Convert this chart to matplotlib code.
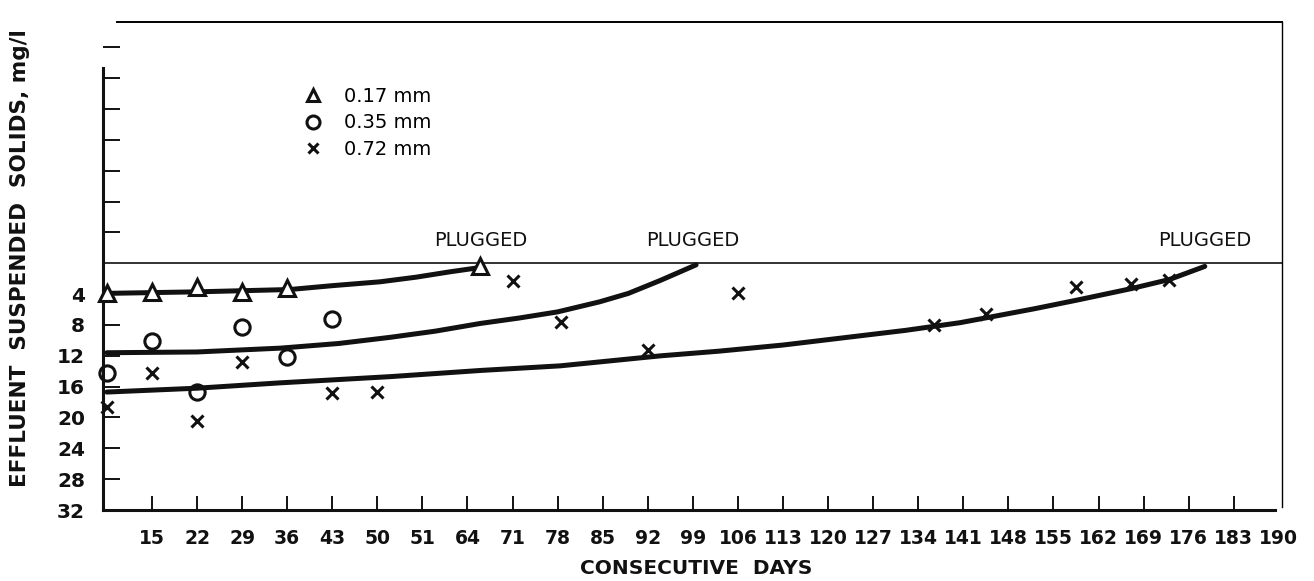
import matplotlib
matplotlib.use("Agg")
import matplotlib.pyplot as plt

# effluent suspended solids (mg/l) for three media sizes
tri_days = [8, 15, 22, 29, 36, 66]
tri_vals = [3.9, 3.7, 3.1, 3.7, 3.2, 0.3]

circ_days = [8, 15, 22, 29, 36, 43]
circ_vals = [14.2, 10.1, 16.7, 8.2, 12.2, 7.2]

x_days = [8, 15, 22, 29, 43, 50, 71, 78.5, 92, 106, 136.5, 144.5, 158.5, 167, 173]
x_vals = [18.7, 14.2, 20.5, 12.8, 16.8, 16.7, 2.3, 7.6, 11.3, 3.9, 8.0, 6.6, 3.1, 2.7, 2.2]

# hand-drawn trend curves
fit_a_days = [8, 22, 36.4, 43, 50.4, 56, 61.3, 65.5]
fit_a_vals = [3.9, 3.7, 3.4, 2.9, 2.4, 1.8, 1.1, 0.6]
fit_b_days = [8, 22, 35, 44, 52, 59, 66, 72, 78, 84.5, 89, 94, 99.5]
fit_b_vals = [11.6, 11.5, 11.0, 10.4, 9.6, 8.8, 7.8, 7.1, 6.3, 5.0, 3.9, 2.2, 0.2]
fit_c_days = [8, 22, 35, 52, 66, 78.4, 94, 103, 113, 123, 132, 140.5, 145, 152, 158.5, 167, 173, 178.5]
fit_c_vals = [16.7, 16.2, 15.5, 14.7, 13.9, 13.3, 12.0, 11.4, 10.6, 9.6, 8.7, 7.7, 7.0, 5.9, 4.8, 3.3, 2.1, 0.4]

plugged_level = 0
plugged_days = [66, 99, 178.5]

x_ticks = [15 + 7 * i for i in range(26)]
x_labels = ["15", "22", "29", "36", "43", "50", "51", "64", "71", "78", "85", "92",
            "99", "106", "113", "120", "127", "134", "141", "148", "155", "162",
            "169", "176", "183", "190"]
y_ticks = [4, 8, 12, 16, 20, 24, 28, 32]
y_minor = [-4, -8, -12, -16, -20, -24, -28]

ink = "#111111"
plt.rcParams["font.family"] = ["DejaVu Sans"]

fig = plt.figure(figsize=(13.14, 5.81), dpi=100)
ax = fig.add_axes([0.0784, 0.1222, 0.8973, 0.8399])
ax.set_xlim(7.4, 190.5)
ax.set_ylim(32, -31.3)

# curves
for d, v in [(fit_a_days, fit_a_vals), (fit_b_days, fit_b_vals), (fit_c_days, fit_c_vals)]:
    ax.plot(d, v, color=ink, lw=3.6, solid_capstyle="round", solid_joinstyle="round", zorder=3)

ax.axhline(plugged_level, color=ink, lw=1.2, zorder=2)

tri = ax.plot(tri_days, tri_vals, ls="none", marker="^", ms=11, mfc="white", mec=ink,
              mew=2.2, clip_on=False, zorder=4, label="0.17 mm")[0]
circ = ax.plot(circ_days, circ_vals, ls="none", marker="o", ms=11, mfc="none", mec=ink,
               mew=2.2, clip_on=False, zorder=4, label="0.35 mm")[0]
cross = ax.plot(x_days, x_vals, ls="none", marker="x", ms=8, mec=ink,
                mew=2.2, clip_on=False, zorder=4, label="0.72 mm")[0]

for d in plugged_days:
    ax.text(d, plugged_level - 2.9, "PLUGGED", ha="center", va="center",
            fontsize=14, color=ink)

ax.legend(handles=[tri, circ, cross], loc="center left", frameon=False,
          bbox_to_anchor=(303 / 1314, 1 - 123 / 581), bbox_transform=fig.transFigure,
          fontsize=14, handlelength=1.0, handletextpad=1.1, labelspacing=0.4,
          borderpad=0, borderaxespad=0, markerscale=0.85)

# axes frame
for side in ["left", "bottom"]:
    ax.spines[side].set_linewidth(2.2)
    ax.spines[side].set_color(ink)
ax.spines["top"].set_linewidth(1.4)
ax.spines["top"].set_bounds(9.6, 190.5)
ax.spines["right"].set_linewidth(1.0)
ax.spines["right"].set_bounds(-31.3, 31.6)
ax.spines["left"].set_bounds(-25.3, 32)
ax.spines["bottom"].set_bounds(7.4, 189.4)

ax.set_xticks(x_ticks)
ax.set_xticklabels(x_labels, fontsize=13.5, fontweight="bold")
ax.set_yticks(y_ticks)
ax.set_yticklabels([str(v) for v in y_ticks], fontsize=14.5, fontweight="bold")
ax.set_yticks(y_minor, minor=True)
ax.tick_params(axis="x", direction="in", length=10, width=1.4, pad=14, colors=ink)
ax.tick_params(axis="y", which="both", direction="in", length=12, width=1.4, pad=13, colors=ink)
ax.xaxis.get_major_ticks()[-1].tick1line.set_visible(False)

fig.text(696 / 1314, 1 - 569 / 581, "CONSECUTIVE  DAYS", ha="center", va="center",
         fontsize=14.5, fontweight="bold", color=ink)
fig.text(20 / 1314, 1 - 258 / 581, "EFFLUENT  SUSPENDED  SOLIDS, mg/l", ha="center",
         va="center", rotation=90, fontsize=15.5, fontweight="bold", color=ink)

fig.savefig("out.png", dpi=100)
plt.close(fig)
